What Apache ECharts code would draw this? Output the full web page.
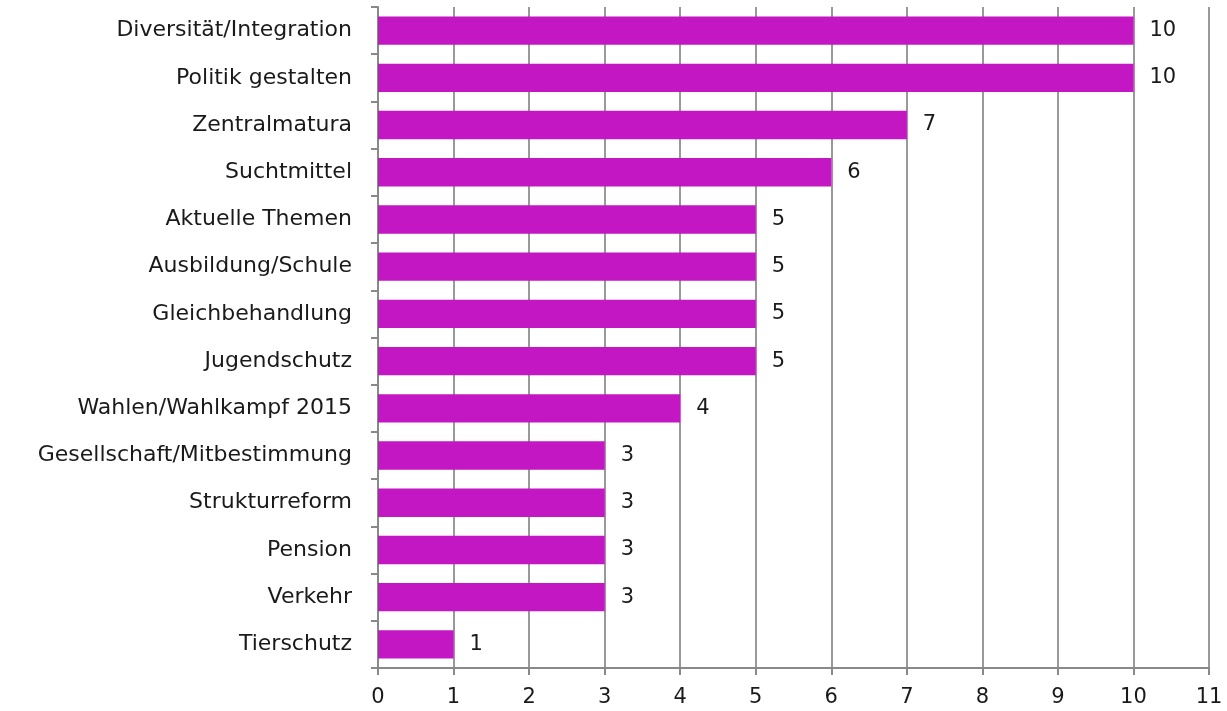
<!DOCTYPE html>
<html><head><meta charset="utf-8">
<script src="https://cdn.jsdelivr.net/npm/echarts@6/dist/echarts.min.js"></script>
<style>html,body{margin:0;padding:0;background:#fff}#c{width:1227px;height:711px}</style>
</head><body><div id="c"></div>
<script>
const categories = ["Diversität/Integration","Politik gestalten","Zentralmatura","Suchtmittel","Aktuelle Themen","Ausbildung/Schule","Gleichbehandlung","Jugendschutz","Wahlen/Wahlkampf 2015","Gesellschaft/Mitbestimmung","Strukturreform","Pension","Verkehr","Tierschutz"];
const values = [10,10,7,6,5,5,5,5,4,3,3,3,3,1];
const xTicks = [0,1,2,3,4,5,6,7,8,9,10,11];
const font = "DejaVu Sans";
const chart = echarts.init(document.getElementById('c'));
chart.setOption({
  animation:false,
  grid:{left:378,right:18,top:7,bottom:43,containLabel:false},
  xAxis:{type:'value',min:0,max:11,interval:1,
    axisLine:{show:true,lineStyle:{color:'#898989',width:2}},
    axisTick:{show:true,length:7,lineStyle:{color:'#898989',width:2}},
    axisLabel:{color:'#1a1a1a',fontFamily:font,fontSize:21,margin:19,formatter:v=>xTicks.includes(v)?String(v):''},
    splitLine:{show:true,lineStyle:{color:'#999',width:2}}},
  yAxis:{type:'category',inverse:true,data:categories,
    axisLine:{show:true,lineStyle:{color:'#898989',width:2}},
    axisTick:{show:true,length:7,lineStyle:{color:'#898989',width:2}},
    axisLabel:{color:'#1a1a1a',fontFamily:font,fontSize:22,margin:26}},
  series:[{type:'bar',data:values,barCategoryGap:'40%',
    itemStyle:{color:'#C217C2'},
    label:{show:true,position:'right',distance:16,color:'#1a1a1a',fontFamily:font,fontSize:21}}]
});
</script></body></html>
